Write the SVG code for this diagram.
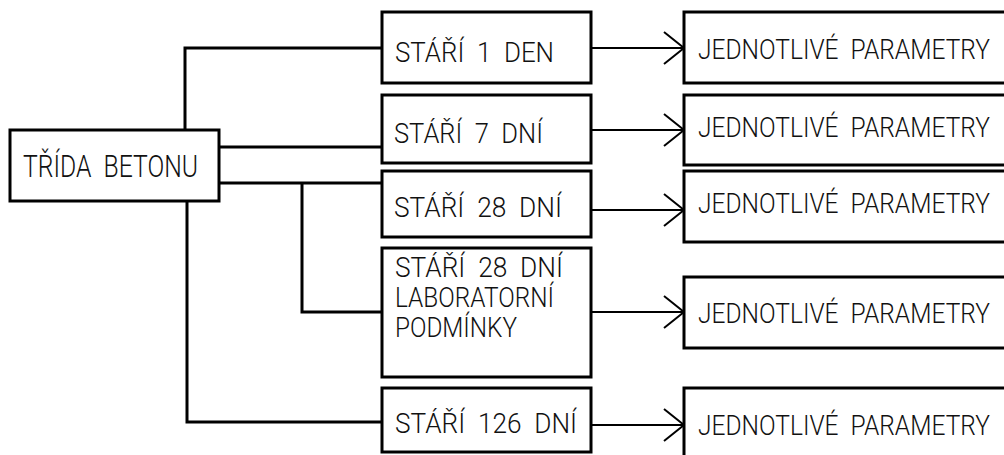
<svg xmlns="http://www.w3.org/2000/svg" width="1004" height="455" viewBox="0 0 1004 455" xml:space="preserve">
<style>
.box{fill:#fff;stroke:#000;stroke-width:3}
.t{font-family:"Roboto","Liberation Sans","DejaVu Sans",sans-serif;font-weight:300;font-size:28px;fill:#111;white-space:pre}
.big{font-size:31px}
.c{fill:none;stroke:#000;stroke-width:3}
.a{fill:none;stroke:#000;stroke-width:2}
</style>
<defs>
<marker id="ah" markerUnits="userSpaceOnUse" markerWidth="24" markerHeight="36" refX="21" refY="17" orient="auto">
<path d="M1,1 L21,17 L1,33" fill="none" stroke="#000" stroke-width="2"/>
</marker>
</defs>
<g id="connectors">
<path class="c" d="M185,130 V48 H382"/>
<path class="c" d="M219,147 H382"/>
<path class="c" d="M219,183 H382"/>
<path class="c" d="M302,183 V312 H382"/>
<path class="c" d="M187,201 V422 H382"/>
<path class="a" d="M591,48 H684" marker-end="url(#ah)"/>
<path class="a" d="M591,130 H684" marker-end="url(#ah)"/>
<path class="a" d="M591,210 H684" marker-end="url(#ah)"/>
<path class="a" d="M591,312 H684" marker-end="url(#ah)"/>
<path class="a" d="M591,425 H684" marker-end="url(#ah)"/>
</g>
<g id="trida">
<rect class="box" x="10" y="130" width="209" height="71"/>
<text class="t big" x="23" y="177" textLength="175" lengthAdjust="spacingAndGlyphs">TŘÍDA  BETONU</text>
</g>
<g id="s1">
<rect class="box" x="382" y="12" width="209" height="71"/>
<text class="t" x="395" y="62" textLength="159" lengthAdjust="spacingAndGlyphs">STÁŘÍ  1  DEN</text>
</g>
<g id="s7">
<rect class="box" x="382" y="95" width="209" height="68"/>
<text class="t" x="394" y="143" textLength="149" lengthAdjust="spacingAndGlyphs">STÁŘÍ  7  DNÍ</text>
</g>
<g id="s28">
<rect class="box" x="382" y="171" width="209" height="66"/>
<text class="t" x="394" y="217" textLength="168" lengthAdjust="spacingAndGlyphs">STÁŘÍ  28  DNÍ</text>
</g>
<g id="s28lab">
<rect class="box" x="382" y="248" width="209" height="129"/>
<text class="t" x="395" y="277" textLength="168" lengthAdjust="spacingAndGlyphs">STÁŘÍ  28  DNÍ</text>
<text class="t" x="395" y="307" textLength="159" lengthAdjust="spacingAndGlyphs">LABORATORNÍ</text>
<text class="t" x="395" y="337" textLength="122" lengthAdjust="spacingAndGlyphs">PODMÍNKY</text>
</g>
<g id="s126">
<rect class="box" x="382" y="388" width="209" height="64"/>
<text class="t" x="395" y="433" textLength="182" lengthAdjust="spacingAndGlyphs">STÁŘÍ  126  DNÍ</text>
</g>
<g id="p1">
<rect class="box" x="684" y="12" width="324" height="71"/>
<text class="t" x="698" y="59" textLength="292" lengthAdjust="spacingAndGlyphs">JEDNOTLIVÉ  PARAMETRY</text>
</g>
<g id="p2">
<rect class="box" x="684" y="95" width="324" height="70"/>
<text class="t" x="698" y="137" textLength="292" lengthAdjust="spacingAndGlyphs">JEDNOTLIVÉ  PARAMETRY</text>
</g>
<g id="p3">
<rect class="box" x="684" y="171" width="324" height="71"/>
<text class="t" x="698" y="213" textLength="292" lengthAdjust="spacingAndGlyphs">JEDNOTLIVÉ  PARAMETRY</text>
</g>
<g id="p4">
<rect class="box" x="684" y="277" width="324" height="71"/>
<text class="t" x="698" y="323" textLength="292" lengthAdjust="spacingAndGlyphs">JEDNOTLIVÉ  PARAMETRY</text>
</g>
<g id="p5">
<rect class="box" x="684" y="388" width="324" height="72"/>
<text class="t" x="698" y="435" textLength="292" lengthAdjust="spacingAndGlyphs">JEDNOTLIVÉ  PARAMETRY</text>
</g>
</svg>
